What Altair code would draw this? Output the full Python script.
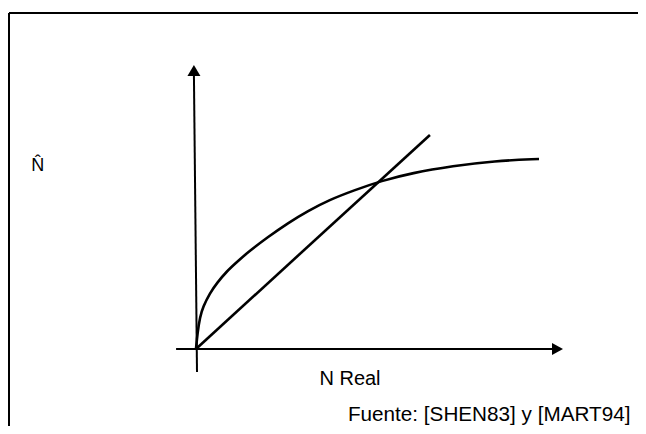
import altair as alt
import pandas as pd

# Estimated curve N-hat vs N real (arbitrary units)
curve_x = [0.0, 0.044, 0.117, 0.204, 0.408, 0.612, 0.904, 1.195, 1.487, 2.099, 2.682,
           3.265, 3.878, 4.636, 5.394, 6.297, 7.493, 8.688, 10.0]
curve_y = [0.0, 0.466, 0.933, 1.224, 1.633, 1.924, 2.274, 2.536, 2.799, 3.265, 3.673,
           4.023, 4.344, 4.636, 4.898, 5.131, 5.335, 5.481, 5.539]
# Straight reference line
line_x = [0.0, 6.82]
line_y = [0.0, 6.24]
# Axes
xaxis_x = [-0.58, 10.47]
xaxis_y = [0.0, 0.0]
yaxis_x = [0.03, -0.06]
yaxis_y = [-0.67, 7.99]
# Arrow tips
tip_x = [10.70, -0.06]
tip_y = [0.0, 8.28]
tip_dir = ["right", "up"]
# Labels
labels = ["N\u0302", "N Real", "Fuente: [SHEN83] y [MART94]"]
label_x = [-4.61, 4.49, 4.43]
label_y = [5.19, -1.05, -2.10]

W, H = 630, 418
xs = alt.Scale(domain=[-5.48, 12.886], zero=False, nice=False)
ys = alt.Scale(domain=[-2.245, 9.94], zero=False, nice=False)

curve_df = pd.DataFrame({"x": curve_x, "y": curve_y, "o": range(len(curve_x))})
seg_df = pd.DataFrame({
    "x": line_x + xaxis_x + yaxis_x,
    "y": line_y + xaxis_y + yaxis_y,
    "seg": ["line"] * 2 + ["xaxis"] * 2 + ["yaxis"] * 2,
    "o": [0, 1, 0, 1, 0, 1],
    "w": [2.6, 2.6, 2.0, 2.0, 2.0, 2.0],
})
tips_df = pd.DataFrame({"x": tip_x, "y": tip_y, "d": tip_dir})
lab_df = pd.DataFrame({"x": label_x, "y": label_y, "t": labels})

X = lambda: alt.X("x:Q", scale=xs, axis=None)
Y = lambda: alt.Y("y:Q", scale=ys, axis=None)

curve = alt.Chart(curve_df).mark_line(color="black", strokeWidth=2.6, interpolate="basis").encode(
    x=X(), y=Y(), order="o:Q")

segs = alt.Chart(seg_df).mark_line(color="black").encode(
    x=X(), y=Y(), detail="seg:N", order="o:Q",
    strokeWidth=alt.StrokeWidth("w:Q", scale=None, legend=None))

arrow_right = alt.Chart(tips_df).transform_filter(alt.datum.d == "right").mark_point(
    shape="M0,0L-1.1,-0.6L-1.1,0.6Z", size=400, filled=True, color="black", opacity=1, strokeWidth=0
).encode(x=X(), y=Y())
arrow_up = alt.Chart(tips_df).transform_filter(alt.datum.d == "up").mark_point(
    shape="M0,0L-0.65,1.1L0.65,1.1Z", size=400, filled=True, color="black", opacity=1, strokeWidth=0
).encode(x=X(), y=Y())

font = "Liberation Sans"
lab_hat = alt.Chart(lab_df.iloc[[0]]).mark_text(font=font, fontSize=18, align="center", baseline="alphabetic", color="black").encode(
    x=X(), y=Y(), text="t:N")
lab_n = alt.Chart(lab_df.iloc[[1]]).mark_text(font=font, fontSize=20, align="center", baseline="alphabetic", color="black").encode(
    x=X(), y=Y(), text="t:N")
lab_f = alt.Chart(lab_df.iloc[[2]]).mark_text(font=font, fontSize=20.7, align="left", baseline="alphabetic", color="black").encode(
    x=X(), y=Y(), text="t:N")

one = pd.DataFrame({"a": [0]})
frame_top = alt.Chart(one).mark_rule(color="black", strokeWidth=2).encode(
    x=alt.value(1), x2=alt.value(W), y=alt.value(5))
frame_left = alt.Chart(one).mark_rule(color="black", strokeWidth=2).encode(
    x=alt.value(1), y=alt.value(5), y2=alt.value(H))

chart = alt.layer(frame_top, frame_left, curve, segs, arrow_right, arrow_up, lab_hat, lab_n, lab_f).properties(
    width=W, height=H, padding=0, autosize=alt.AutoSizeParams(type="none"), background="white"
).configure_view(stroke=None)

chart.save("out.html", embed_options={"renderer": "svg", "actions": False})
